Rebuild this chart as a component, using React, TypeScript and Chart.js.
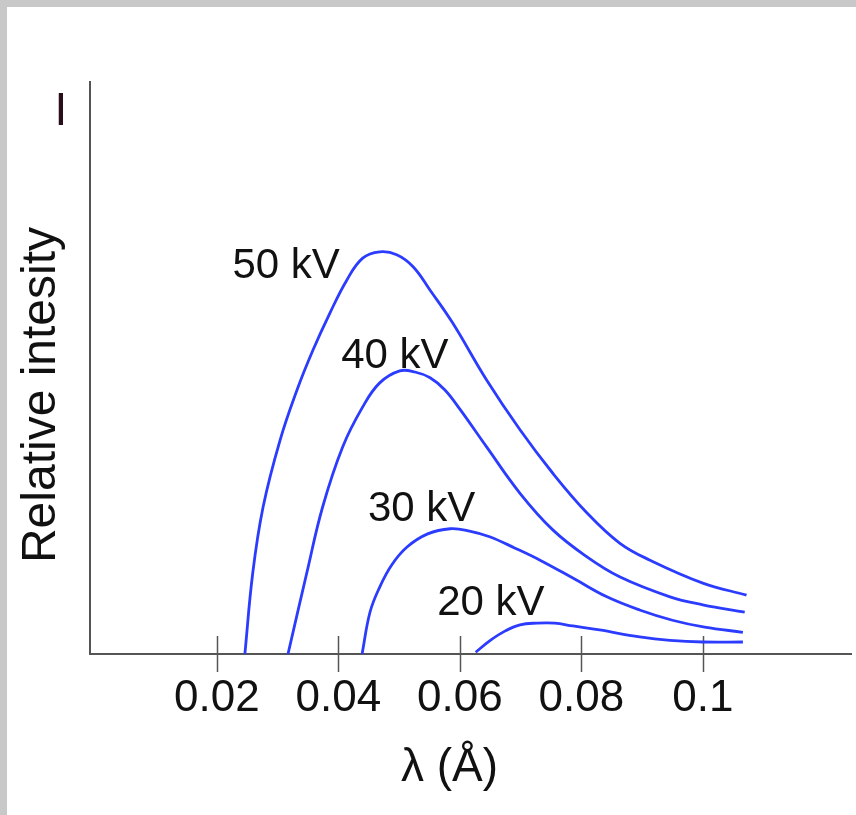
import { useEffect, useRef } from 'react';
import { Chart, registerables } from 'chart.js';

Chart.register(...registerables);

// ---- data (λ in Å, relative intensity in arbitrary units) ----
const lambda50 = [0.0246, 0.0259, 0.0276, 0.0304, 0.0332, 0.0358, 0.0386, 0.0414, 0.044, 0.0468, 0.0496, 0.0523, 0.0551, 0.0588, 0.0644, 0.0699, 0.0753, 0.0809, 0.0863, 0.0913, 0.1, 0.1072];
const intensity50 = [0, 14.2, 25.7, 37.4, 46.2, 53.1, 59.6, 65.4, 69.2, 70.3, 69.8, 67.7, 63.6, 57.9, 47.9, 39.2, 31.6, 24.7, 19.4, 16.4, 12.4, 10.3];

const lambda40 = [0.0317, 0.0348, 0.0374, 0.0407, 0.044, 0.0468, 0.0501, 0.0526, 0.0551, 0.0575, 0.06, 0.0644, 0.0699, 0.0753, 0.0809, 0.0863, 0.0946, 0.1, 0.1069];
const intensity40 = [0, 14.2, 25.7, 36.2, 43.2, 47.4, 49.5, 49.3, 48.3, 46.2, 42.8, 36.2, 28.1, 21.7, 17.0, 13.5, 10.0, 8.6, 7.3];

const lambda30 = [0.0439, 0.0452, 0.0468, 0.0488, 0.0513, 0.0547, 0.0584, 0.0616, 0.0649, 0.0691, 0.0732, 0.0789, 0.0842, 0.0896, 0.095, 0.1003, 0.1066];
const intensity30 = [0, 7.3, 11.7, 15.6, 18.7, 21.0, 21.9, 21.5, 20.5, 18.5, 16.4, 13.1, 10.0, 7.7, 5.9, 4.7, 3.8];

const lambda20 = [0.0626, 0.0649, 0.0674, 0.0699, 0.0727, 0.0756, 0.0786, 0.083, 0.0896, 0.0946, 0.1, 0.1066];
const intensity20 = [0.3, 2.3, 4.0, 5.1, 5.4, 5.4, 4.9, 4.2, 3.0, 2.4, 2.1, 2.1];

const seriesNames = ['50 kV', '40 kV', '30 kV', '20 kV'];
const seriesLambdas = [lambda50, lambda40, lambda30, lambda20];
const seriesIntensities = [intensity50, intensity40, intensity30, intensity20];

// curve label anchors (data units)
const labelLambda = [0.0314, 0.0493, 0.0537, 0.0651];
const labelIntensity = [67.8, 52.1, 25.3, 8.9];

const xTickValues = [0.02, 0.04, 0.06, 0.08, 0.1];
const xTickLabels = ['0.02', '0.04', '0.06', '0.08', '0.1'];

const xTitle = 'λ (Å)';
const yTitle = 'Relative intesity';
const yMarker = 'I';

const FONT = '"Liberation Sans", Arial, Helvetica, sans-serif';
const BLUE = '#2b3cff';
const AXIS = '#555555';

const decorPlugin = {
  id: 'decor',
  beforeDatasetsDraw(chart: any) {
    const { ctx, chartArea, scales } = chart;
    const x = scales.x;
    const axisY = chartArea.bottom;
    ctx.save();
    ctx.strokeStyle = AXIS;
    ctx.lineWidth = 1.5;
    xTickValues.forEach((v) => {
      const px = Math.round(x.getPixelForValue(v)) + 0.5;
      ctx.beginPath();
      ctx.moveTo(px, axisY - 18);
      ctx.lineTo(px, axisY + 18);
      ctx.stroke();
    });
    ctx.restore();
  },
  afterDraw(chart: any) {
    const { ctx, chartArea, scales } = chart;
    const x = scales.x;
    const y = scales.y;
    ctx.save();
    ctx.textAlign = 'center';
    ctx.textBaseline = 'middle';
    ctx.fillStyle = '#111111';
    // curve labels
    ctx.font = `42px ${FONT}`;
    seriesNames.forEach((name, i) => {
      ctx.fillText(name, x.getPixelForValue(labelLambda[i]), y.getPixelForValue(labelIntensity[i]));
    });
    // x title
    ctx.font = `46px ${FONT}`;
    ctx.fillText(xTitle, (chartArea.left + chartArea.right) / 2 - 21, chartArea.bottom + 114);
    // y title
    ctx.save();
    ctx.translate(chartArea.left - 48, (chartArea.top + chartArea.bottom) / 2 + 27);
    ctx.rotate(-Math.PI / 2);
    ctx.font = `48px ${FONT}`;
    ctx.fillText(yTitle, 0, 0);
    ctx.restore();
    // I marker
    ctx.fillStyle = '#2a0d1a';
    ctx.font = `46px ${FONT}`;
    ctx.fillText(yMarker, chartArea.left - 29, chartArea.top + 30);
    ctx.restore();
  },
};

export default function App() {
  const canvasRef = useRef<HTMLCanvasElement | null>(null);

  useEffect(() => {
    const canvas = canvasRef.current;
    if (!canvas) return;
    const datasets = seriesNames.map((name, i) => ({
      label: name,
      data: seriesLambdas[i].map((l, j) => ({ x: l, y: seriesIntensities[i][j] })),
      borderColor: BLUE,
      backgroundColor: BLUE,
      borderWidth: 2.8,
      pointRadius: 0,
      fill: false,
      tension: 0.4,
    }));

    const chart = new Chart(canvas, {
      type: 'line',
      data: { datasets },
      options: {
        animation: false,
        responsive: false,
        devicePixelRatio: 1,
        layout: { padding: { left: 83, top: 75, right: 5, bottom: 0 } },
        plugins: {
          legend: { display: false },
          tooltip: { enabled: false },
          title: { display: false },
        },
        scales: {
          x: {
            type: 'linear',
            min: -0.0009,
            max: 0.1244,
            afterBuildTicks: (s: any) => {
              s.ticks = xTickValues.map((v) => ({ value: v }));
            },
            afterFit: (s: any) => {
              s.height = 161;
            },
            grid: { display: true, drawOnChartArea: false, drawTicks: false },
            border: { display: true, color: AXIS, width: 2 },
            ticks: {
              autoSkip: false,
              maxRotation: 0,
              padding: 18,
              color: '#111111',
              font: { family: FONT, size: 44 },
              callback: (v: any) => {
                const idx = xTickValues.findIndex((t) => Math.abs(t - Number(v)) < 1e-9);
                return idx >= 0 ? xTickLabels[idx] : '';
              },
            },
          },
          y: {
            type: 'linear',
            min: 0,
            max: 100,
            afterFit: (s: any) => {
              s.width = 0;
            },
            grid: { display: true, drawOnChartArea: false, drawTicks: false },
            border: { display: true, color: AXIS, width: 2 },
            ticks: { display: false },
          },
        },
      },
      plugins: [decorPlugin],
    });
    return () => chart.destroy();
  }, []);

  return (
    <div style={{ position: 'fixed', left: 0, top: 0, width: 856, height: 815, background: '#c8c8c8' }}>
      <div style={{ position: 'absolute', left: 7, top: 7, width: 849, height: 808, background: '#ffffff' }}>
        <canvas ref={canvasRef} width={849} height={808} style={{ display: 'block', width: 849, height: 808 }} />
      </div>
    </div>
  );
}
